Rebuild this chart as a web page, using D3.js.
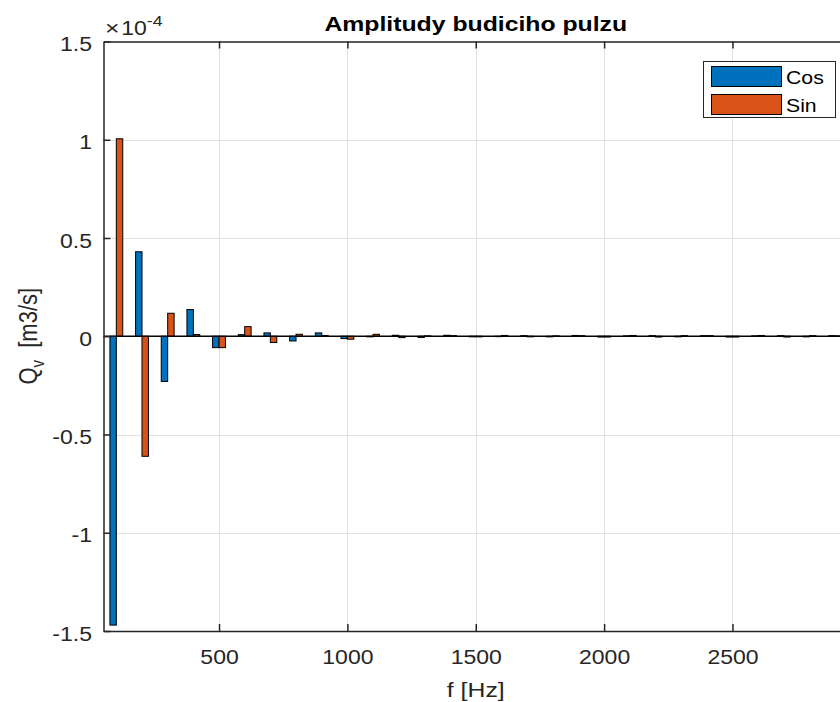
<!DOCTYPE html>
<html>
<head>
<meta charset="utf-8">
<script src="https://cdn.jsdelivr.net/npm/d3@7"></script>
<style>
  html, body { margin: 0; padding: 0; background: #fff; }
  svg { display: block; font-family: Arial, "Liberation Sans", Helvetica, sans-serif; }
</style>
</head>
<body>
<svg id="chart" width="840" height="702"></svg>
<script>
// Harmonic frequencies of the excitation pulse [Hz]
const frequencies = d3.range(100, 3000, 100);

// Cosine and sine amplitudes, in units of 1e-4 m3/s
const cosAmplitudes = [
  -1.47, 0.43, -0.23, 0.136, -0.058, 0.008, 0.017, -0.024, 0.017, -0.012,
  -0.003, 0.005, -0.006, 0.005, -0.003, -0.002, 0.003, -0.003, 0.004, -0.004,
  0.002, 0.003, -0.003, 0.003, -0.004, 0.002, 0.003, -0.003, 0.003
];
const sinAmplitudes = [
  1.005, -0.611, 0.117, 0.009, -0.058, 0.049, -0.032, 0.010, 0.004, -0.015,
  0.010, -0.007, 0.002, 0.003, -0.003, 0.004, -0.003, 0.002, 0.003, -0.004,
  0.004, -0.004, 0.003, 0.003, -0.004, 0.004, -0.004, 0.003, 0.002
];

const seriesNames = ["Cos", "Sin"];
const seriesColors = ["#0072BD", "#D95319"];
const xTicks = [500, 1000, 1500, 2000, 2500];
const yTicks = [-1.5, -1, -0.5, 0, 0.5, 1, 1.5];
const yExponent = -4;

const svg = d3.select("#chart");
const W = 840, H = 702;
const plot = { left: 103.5, right: 848, top: 41.5, bottom: 631 };

const x = d3.scaleLinear().domain([50, 2950]).range([plot.left, plot.right]);
const y = d3.scaleLinear().domain([-1.5, 1.5]).range([plot.bottom, plot.top]);

const axisColor = "#262626";
const tickFont = 19.5;
const S = 1.18; // horizontal glyph stretch

// place a text element at (px, py) with horizontally widened glyphs
function placeText(sel, px, py) {
  return sel.attr("transform", `translate(${px},${py}) scale(${S},1)`);
}

svg.append("rect").attr("width", W).attr("height", H).attr("fill", "#fff");

// Grid
const grid = svg.append("g").attr("stroke", "#e1e1e1").attr("stroke-width", 1);
grid.selectAll("line.gx").data(xTicks).join("line")
  .attr("x1", d => Math.round(x(d)) + 0.5).attr("x2", d => Math.round(x(d)) + 0.5)
  .attr("y1", plot.top).attr("y2", plot.bottom);
grid.selectAll("line.gy").data(yTicks).join("line")
  .attr("y1", d => Math.round(y(d)) + 0.5).attr("y2", d => Math.round(y(d)) + 0.5)
  .attr("x1", plot.left).attr("x2", plot.right);

// Bars: two series grouped around each frequency
const barWidth = 25; // Hz per bar
const rows = frequencies.map((f, i) => ({ f, vals: [cosAmplitudes[i], sinAmplitudes[i]] }));
const bars = svg.append("g");
seriesNames.forEach((name, s) => {
  bars.selectAll("rect.s" + s).data(rows).join("rect")
    .attr("class", "s" + s)
    .attr("x", d => x(d.f - barWidth + s * barWidth))
    .attr("width", d => x(d.f + s * barWidth) - x(d.f - barWidth + s * barWidth))
    .attr("y", d => y(Math.max(0, d.vals[s])))
    .attr("height", d => Math.abs(y(d.vals[s]) - y(0)))
    .attr("fill", seriesColors[s])
    .attr("stroke", "#000")
    .attr("stroke-width", 1);
});

// Baseline at zero
svg.append("line")
  .attr("x1", plot.left).attr("x2", plot.right)
  .attr("y1", y(0)).attr("y2", y(0))
  .attr("stroke", "#000").attr("stroke-width", 1.3);

// Axes with inward ticks on all sides
const tickLen = 7;
const xAxisB = d3.axisBottom(x).tickValues(xTicks).tickSizeInner(-tickLen).tickSizeOuter(0)
  .tickPadding(0).tickFormat(d => String(d));
const xAxisT = d3.axisTop(x).tickValues(xTicks).tickSizeInner(-tickLen).tickSizeOuter(0).tickFormat("");
const yAxisL = d3.axisLeft(y).tickValues(yTicks).tickSizeInner(-tickLen).tickSizeOuter(0)
  .tickPadding(0).tickFormat(d => String(d));
const yAxisR = d3.axisRight(y).tickValues(yTicks).tickSizeInner(-tickLen).tickSizeOuter(0).tickFormat("");

function styleAxis(g) {
  g.select(".domain").attr("stroke", axisColor).attr("stroke-width", 1.5);
  g.selectAll(".tick line").attr("stroke", axisColor).attr("stroke-width", 1.5);
  g.selectAll(".tick text").attr("fill", axisColor).attr("font-size", tickFont).attr("font-family", null);
}
svg.append("g").attr("transform", `translate(0,${plot.bottom})`).call(xAxisB).call(styleAxis)
  .selectAll(".tick text").attr("x", null).attr("y", null).attr("dy", null)
  .attr("transform", `translate(0,33) scale(${S},1)`);
svg.append("g").attr("transform", `translate(0,${plot.top})`).call(xAxisT).call(styleAxis);
svg.append("g").attr("transform", `translate(${plot.left},0)`).call(yAxisL).call(styleAxis)
  .selectAll(".tick text").attr("x", null).attr("y", null).attr("dy", null)
  .attr("transform", `translate(-11.5,9) scale(${S},1)`);
svg.append("g").attr("transform", `translate(${plot.right},0)`).call(yAxisR).call(styleAxis);

// Exponent multiplier above the y axis
const expLabel = placeText(svg.append("text"), 105, 34.5)
  .attr("fill", axisColor).attr("font-size", tickFont);
expLabel.append("tspan").attr("font-size", 21).text("\u00d7");
expLabel.append("tspan").attr("dx", 1.5).text("10");
expLabel.append("tspan").attr("font-size", 15).attr("dy", -9).text(String(yExponent));

// Title
placeText(svg.append("text"), (plot.left + plot.right) / 2, 31)
  .attr("text-anchor", "middle").attr("font-weight", "bold")
  .attr("font-size", 21).attr("fill", "#000")
  .text("Amplitudy budiciho pulzu");

// Axis labels
placeText(svg.append("text"), (plot.left + plot.right) / 2, 697)
  .attr("text-anchor", "middle").attr("font-size", 21).attr("fill", axisColor)
  .text("f [Hz]");

const yl = svg.append("text")
  .attr("transform", `translate(37,${(plot.top + plot.bottom) / 2}) rotate(-90) scale(1,${S})`)
  .attr("text-anchor", "middle").attr("font-size", 22).attr("fill", axisColor);
yl.append("tspan").text("Q");
yl.append("tspan").attr("font-size", 15).attr("dy", 6).text("v");
yl.append("tspan").attr("dy", -6).text("\u00a0\u00a0[m3/s]");

// Legend
const lg = svg.append("g");
lg.append("rect")
  .attr("x", 703.5).attr("y", 61.5).attr("width", 132).attr("height", 56)
  .attr("fill", "#fff").attr("stroke", axisColor).attr("stroke-width", 1);
seriesNames.forEach((name, s) => {
  lg.append("rect")
    .attr("x", 711.5).attr("y", 66.5 + s * 28).attr("width", 70).attr("height", 20)
    .attr("fill", seriesColors[s]).attr("stroke", "#000").attr("stroke-width", 1);
  placeText(lg.append("text"), 786, 84 + s * 28)
    .attr("font-size", 18).attr("fill", "#000")
    .text(name);
});
</script>
</body>
</html>
